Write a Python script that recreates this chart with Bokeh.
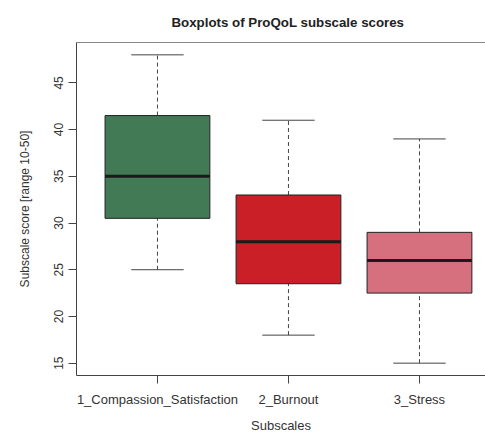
import numpy as np
from bokeh.plotting import figure
from bokeh.models import ColumnDataSource, FixedTicker, LinearAxis, Range1d
from bokeh.embed import file_html
from bokeh.resources import INLINE

title_text = "Boxplots of ProQoL subscale scores"
x_title = "Subscales"
y_title = "Subscale score [range 10-50]"
categories = ["1_Compassion_Satisfaction", "2_Burnout", "3_Stress"]
whisker_low = [25, 18, 15]
q1 = [30.5, 23.5, 22.5]
median = [35, 28, 26]
q3 = [41.5, 33, 29]
whisker_high = [48, 41, 39]
colors = ["#417a55", "#cb1f28", "#d6707f"]
y_ticks = [15, 20, 25, 30, 35, 40, 45]

pos = np.arange(1, len(categories) + 1, dtype=float)
box_w = 0.8
cap_w = 0.4

src = ColumnDataSource(dict(
    x=pos, lo=whisker_low, q1=q1, med=median, q3=q3, hi=whisker_high, color=colors,
    bl=pos - box_w / 2, br=pos + box_w / 2, cl=pos - cap_w / 2, cr=pos + cap_w / 2,
))

FONT = "Liberation Sans"
TXT = "#333333"
LINE = "#444444"

p = figure(width=485, height=435, output_backend="svg", toolbar_location=None,
           x_range=Range1d(0.382, 3.504), y_range=Range1d(13.68, 49.32),
           min_border_left=76, min_border_right=0, min_border_bottom=60, min_border_top=42)
p.outline_line_color = None
p.xgrid.visible = False
p.ygrid.visible = False
p.background_fill_color = "white"
p.border_fill_color = "white"

p.title.text = title_text
p.title.align = "left"
p.title.offset = 95
p.title.vertical_align = "top"
p.title.text_font = FONT
p.title.text_font_style = "bold"
p.title.text_font_size = "13.3px"
p.title.text_color = "#222222"
p.title.standoff = 21

# whiskers (dashed)
p.segment(x0="x", y0="q3", x1="x", y1="hi", source=src, line_color=LINE, line_dash="4 3", line_width=1)
p.segment(x0="x", y0="lo", x1="x", y1="q1", source=src, line_color=LINE, line_dash="4 3", line_width=1)
# caps
p.segment(x0="cl", y0="hi", x1="cr", y1="hi", source=src, line_color=LINE, line_width=1)
p.segment(x0="cl", y0="lo", x1="cr", y1="lo", source=src, line_color=LINE, line_width=1)
# boxes
p.quad(left="bl", right="br", bottom="q1", top="q3", source=src, fill_color="color",
       line_color="#222222", line_width=1)
# medians
p.segment(x0="bl", y0="med", x1="br", y1="med", source=src, line_color="#1a1a1a", line_width=3)

xa = p.xaxis[0]
xa.ticker = FixedTicker(ticks=list(pos))
xa.major_label_overrides = {float(v): c for v, c in zip(pos, categories)}
xa.minor_tick_line_color = None
xa.major_tick_out = 8
xa.major_tick_in = 0
xa.axis_line_color = LINE
xa.major_tick_line_color = LINE
xa.major_label_text_font = FONT
xa.major_label_text_font_size = "13px"
xa.major_label_text_color = TXT
xa.major_label_standoff = 8
xa.axis_label = x_title
xa.axis_label_text_font = FONT
xa.axis_label_text_font_style = "normal"
xa.axis_label_text_font_size = "13px"
xa.axis_label_text_color = TXT
xa.axis_label_standoff = 8

ya = p.yaxis[0]
ya.ticker = FixedTicker(ticks=y_ticks)
ya.minor_tick_line_color = None
ya.major_tick_out = 8
ya.major_tick_in = 0
ya.axis_line_color = LINE
ya.major_tick_line_color = LINE
ya.major_label_orientation = "vertical"
ya.major_label_text_font = FONT
ya.major_label_text_font_size = "12px"
ya.major_label_text_color = TXT
ya.major_label_standoff = 5
ya.axis_label = y_title
ya.axis_label_text_font = FONT
ya.axis_label_text_font_style = "normal"
ya.axis_label_text_font_size = "12px"
ya.axis_label_text_color = TXT
ya.axis_label_standoff = 20

top = LinearAxis(ticker=FixedTicker(ticks=[]), major_tick_line_color=None,
                 minor_tick_line_color=None, axis_line_color="#888888")
top.major_label_standoff = 0
p.add_layout(top, "above")

open("out.html", "w").write(file_html(p, INLINE))
